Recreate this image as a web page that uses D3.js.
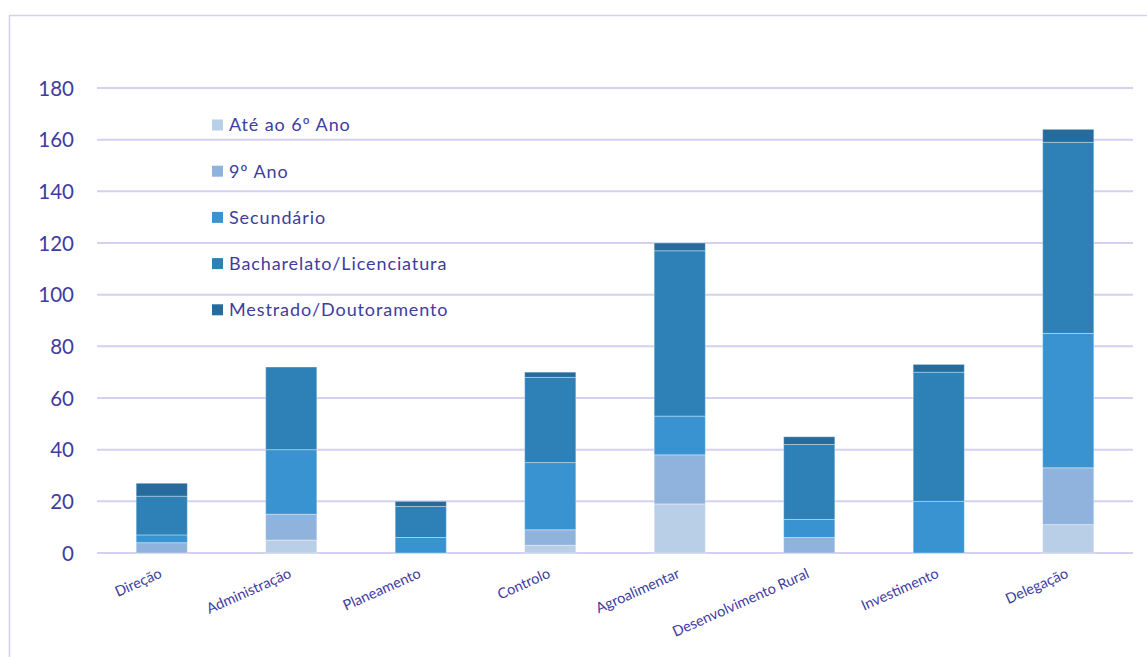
<!DOCTYPE html>
<html><head><meta charset="utf-8">
<script src="https://cdn.jsdelivr.net/npm/d3@7"></script>
<style>body{margin:0;background:#fff}svg{display:block}</style>
</head><body>
<script>
const categories = ["Direção","Administração","Planeamento","Controlo","Agroalimentar","Desenvolvimento Rural","Investimento","Delegação"];
const seriesNames = ["Até ao 6º Ano","9º Ano","Secundário","Bacharelato/Licenciatura","Mestrado/Doutoramento"];
const ate6 = [0,5,0,3,19,0,0,11];
const ano9 = [4,10,0,6,19,6,0,22];
const secundario = [3,25,6,26,15,7,20,52];
const bacharelato = [15,32,12,33,64,29,50,74];
const mestrado = [5,0,2,2,3,3,3,5];
const yTicks = [0,20,40,60,80,100,120,140,160,180];
const colors = ["#b8cfe7","#8fb3dc","#3893d0","#2e81b7","#256b9c"];

const W=1147,H=657;
const textColor="#3f3ca0", gridColor="#d4d0f0";
const svg=d3.select("body").append("svg").attr("width",W).attr("height",H);
svg.append("rect").attr("x",9.5).attr("y",15.5).attr("width",1300).attr("height",800)
  .attr("fill","none").attr("stroke",gridColor).attr("stroke-width",1.5);

const x=d3.scaleBand().domain(categories).range([97,1133]).paddingInner(0.605).paddingOuter(0.3025);
const y=d3.scaleLinear().domain([0,180]).range([553,88]);

// grid
svg.append("g").selectAll("line").data(yTicks).join("line")
  .attr("x1",97).attr("x2",1133).attr("y1",d=>y(d)).attr("y2",d=>y(d))
  .attr("stroke",gridColor).attr("stroke-width",2);

// y labels
const yAxis=d3.axisLeft(y).tickValues(yTicks).tickSize(0).tickPadding(0);
const ga=svg.append("g").attr("transform","translate(74,0)").call(yAxis);
ga.select(".domain").remove();
ga.selectAll("text").attr("fill",textColor).style("font-family","Lato, sans-serif").style("font-size","20.5px").attr("dy","0.35em");

// stacks
const rows=categories.map((c,i)=>({cat:c,s0:ate6[i],s1:ano9[i],s2:secundario[i],s3:bacharelato[i],s4:mestrado[i]}));
const stack=d3.stack().keys(["s0","s1","s2","s3","s4"]);
const layers=stack(rows);
svg.append("g").selectAll("g").data(layers).join("g").attr("fill",(d,i)=>colors[i])
  .selectAll("rect").data(d=>d.filter(p=>p[1]>p[0])).join("rect")
  .attr("x",d=>x(d.data.cat)).attr("width",x.bandwidth())
  .attr("y",d=>y(d[1])).attr("height",d=>y(d[0])-y(d[1]))
  .attr("stroke","rgba(255,255,255,0.35)").attr("stroke-width",1);

// x labels
const xAxis=d3.axisBottom(x).tickSize(0).tickPadding(0);
const gx=svg.append("g").call(xAxis);
gx.select(".domain").remove();
gx.selectAll(".tick text").attr("fill",textColor).style("font-family","Lato, sans-serif").style("font-size","14.5px")
  .attr("text-anchor","end").attr("y",0).attr("dy",0)
  .attr("transform","translate(1,577) rotate(-24)");

// legend
const lg=svg.append("g");
seriesNames.forEach((n,i)=>{
  const cy=125+i*46.2;
  lg.append("rect").attr("x",212).attr("y",cy-5.5).attr("width",11).attr("height",11).attr("fill",colors[i]);
  lg.append("text").attr("x",229).attr("y",cy).attr("dy","0.35em").text(n)
    .attr("fill",textColor).style("font-family","Lato, sans-serif").style("font-size","18px").style("letter-spacing","0.9px");
});
</script>
</body></html>
